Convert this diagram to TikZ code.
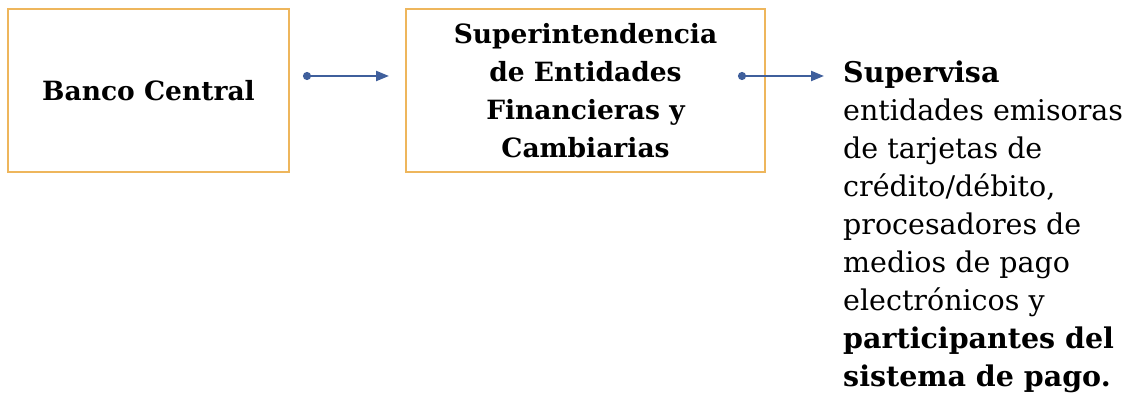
\documentclass[tikz,border=0pt]{standalone}
\usepackage{fontspec}
\setmainfont{DejaVu Serif}
\usetikzlibrary{arrows.meta}

\definecolor{boxorange}{HTML}{EEB65C}
\definecolor{arrowblue}{HTML}{3F5F9C}

\tikzset{
    entity/.style={draw=boxorange, line width=2pt, minimum height=163pt, align=center, font=\fontsize{26.5}{38}\selectfont\bfseries},
    flow/.style={arrowblue, line width=2.2pt, {Circle[length=8pt]}-{Triangle[length=13pt, width=10pt]}},
}

\begin{document}
\begin{tikzpicture}[x=1pt, y=1pt]
        \useasboundingbox (0, 0) rectangle (1136, -395);
        \node[entity, minimum width=281pt] (bc) at (148.5, -90.5) {Banco Central};
        \node[entity, minimum width=359pt] (sef) at (585.5, -90.5) {Superintendencia\\de Entidades\\Financieras y\\Cambiarias};
        \node[anchor=north west, inner sep=0pt, align=left, font=\fontsize{28.5}{38}\selectfont] (sup) at (843, -61) {\textbf{Supervisa}\\entidades emisoras\\de tarjetas de\\crédito/débito,\\procesadores de\\medios de pago\\electrónicos y\\\textbf{participantes del}\\\textbf{sistema de pago.}};
        \coordinate (a1) at (303, -76);
        \coordinate (b1) at (389, -76);
        \coordinate (a2) at (738, -76);
        \coordinate (b2) at (824, -76);
        \draw[flow] (a1) -- (b1);
        \draw[flow] (a2) -- (b2);
\end{tikzpicture}
\end{document}
